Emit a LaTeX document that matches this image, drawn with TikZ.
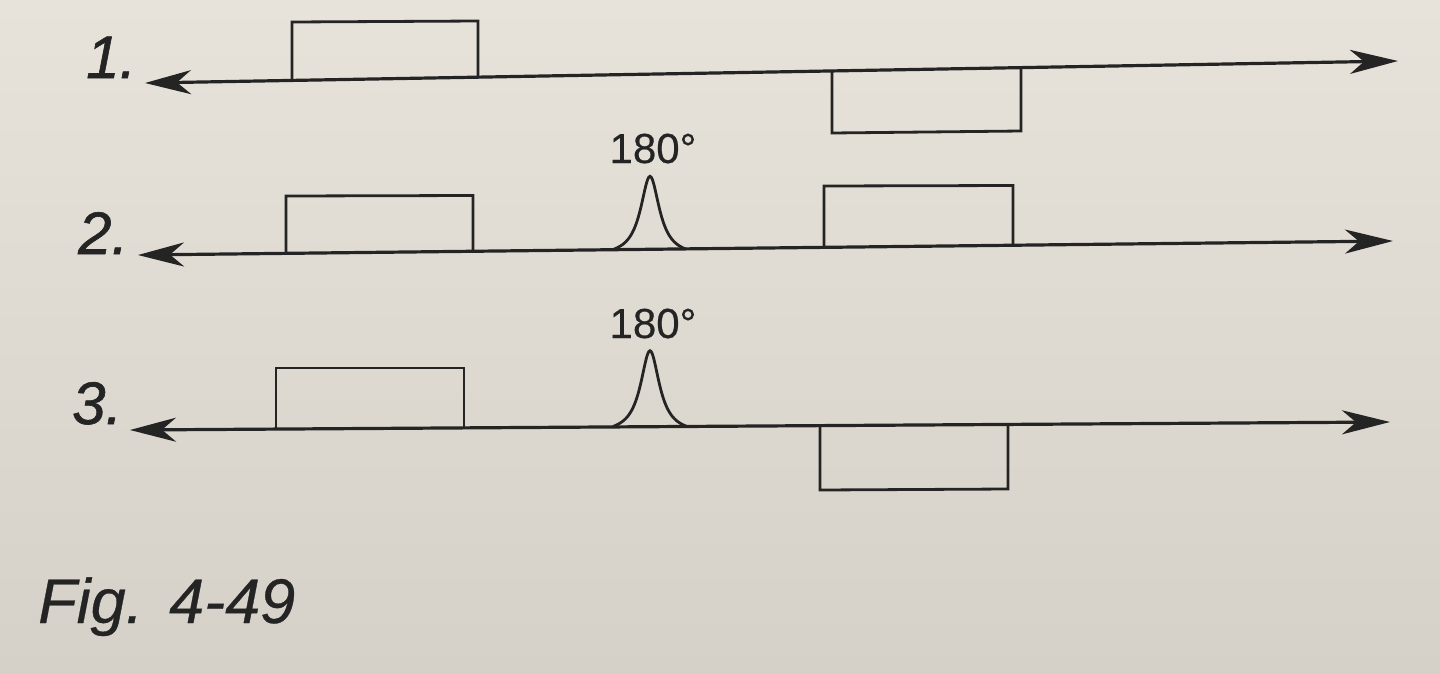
\documentclass[tikz,border=0pt]{standalone}
\usepackage{fontspec}
\setmainfont{Liberation Sans}
\newfontfamily\heavyfont{Liberation Sans}[FakeBold=1.0]
\newfontfamily\midfont{Liberation Sans}[FakeBold=0.5]
\usetikzlibrary{arrows.meta}
\definecolor{papertop}{RGB}{232,227,218}
\definecolor{paperbot}{RGB}{214,209,200}
\definecolor{ink}{RGB}{36,36,36}
\begin{document}
\begin{tikzpicture}[x=1pt,y=-1pt,
  axis/.style={ink,line width=3.2pt,{Stealth[length=46pt,width=24pt,inset=14pt]}-{Stealth[length=48pt,width=24pt,inset=14pt]}},
  pulse/.style={ink,line width=2.8pt,line join=miter},
  peak/.style={ink,line width=2.8pt,smooth},
  numlabel/.style={anchor=base west,inner sep=0pt,text=ink,font=\heavyfont\fontsize{60}{70}\selectfont\itshape},
  deglabel/.style={anchor=base,inner sep=0pt,text=ink,font=\midfont\fontsize{42}{50}\selectfont},
  figlabel/.style={anchor=base west,inner sep=0pt,text=ink,font=\midfont\fontsize{63}{75}\selectfont\itshape}]
\useasboundingbox (0,0) rectangle (1440,673);
\shade[top color=papertop,bottom color=paperbot] (0,0) rectangle (1440,673);
% line 1
\coordinate (a1) at (145,83);
\coordinate (b1) at (1398,61);
\draw[pulse] (292,80.4) -- (292,22) -- (478,21) -- (478,77.2);
\draw[pulse] (832,70.9) -- (832,133) -- (1021,131) -- (1021,67.6);
\draw[axis] (a1) -- (b1);
\node[numlabel] (n1) at (86,78) {1.};
% line 2
\coordinate (a2) at (138,255);
\coordinate (b2) at (1393,241);
\draw[pulse] (286,253.3) -- (286,196) -- (473,195.5) -- (473,251.3);
\draw[pulse] (824,247.3) -- (824,186) -- (1013,185.5) -- (1013,245.2);
\draw[peak] plot[domain=-36:36,samples=61] ({650+\x},{249.3-73*((1/(1+(\x/11.5)^2))-0.09)/0.91});
\draw[axis] (a2) -- (b2);
\node[numlabel] (n2) at (78,254) {2.};
\node[deglabel] (d2) at (653,163) {180°};
% line 3
\coordinate (a3) at (130,430);
\coordinate (b3) at (1390,422);
\draw[pulse] (276,429.1) -- (276,368) -- (464,368) -- (464,427.9);
\draw[pulse] (820,425.6) -- (820,490) -- (1008,489) -- (1008,424.4);
\draw[peak] plot[domain=-37:37,samples=61] ({650+\x},{426.7-76*((1/(1+(\x/11.5)^2))-0.085)/0.915});
\draw[axis] (a3) -- (b3);
\node[numlabel] (n3) at (72,424) {3.};
\node[deglabel] (d3) at (653,338) {180°};
% caption
\node[figlabel] (fig) at (38,623) {Fig.\hspace{26pt}4-49};
\end{tikzpicture}
\end{document}
